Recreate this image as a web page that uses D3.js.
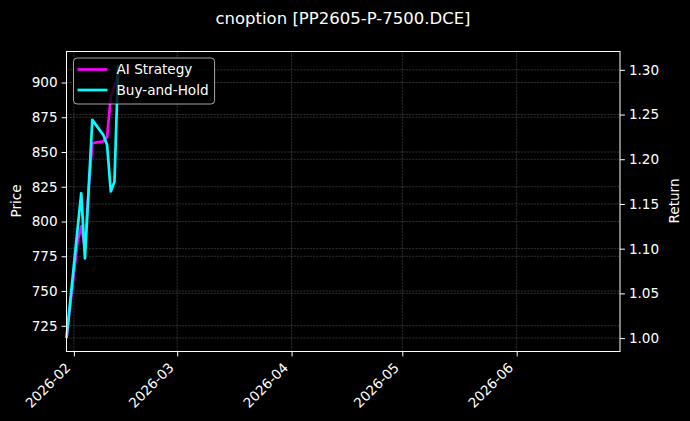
<!DOCTYPE html>
<html>
<head>
<meta charset="utf-8">
<script src="https://cdn.jsdelivr.net/npm/d3@7"></script>
<style>
	body { margin: 0; background: #000; }
	svg { display: block; font-family: "DejaVu Sans", sans-serif; }
</style>
</head>
<body>
<svg width="690" height="421"></svg>
<script>
// trading days
var dates = ["2026-01-30", "2026-02-02", "2026-02-03", "2026-02-04", "2026-02-05", "2026-02-06",
	"2026-02-09", "2026-02-10", "2026-02-11", "2026-02-12", "2026-02-13"];
var aiStrategy = [1.000, 1.108, 1.125, 1.100, 1.166, 1.218, 1.220, 1.225, 1.270, 1.282, 1.292];
var buyHold    = [1.000, 1.122, 1.162, 1.089, 1.166, 1.244, 1.227, 1.216, 1.164, 1.175, 1.305];

var xRange = ["2026-01-30", "2026-06-29"];
var priceRange = [706.5, 922.3];
var returnRange = [0.985, 1.3205];
var priceTicks = [725, 750, 775, 800, 825, 850, 875, 900];
var returnTicks = [1.00, 1.05, 1.10, 1.15, 1.20, 1.25, 1.30];

var title = "cnoption [PP2605-P-7500.DCE]";
var seriesNames = ["AI Strategy", "Buy-and-Hold"];
var seriesColors = ["#ff00ff", "#00ffff"];

var parse = d3.utcParse("%Y-%m-%d");
var svg = d3.select("svg");
var plotL = 66.5, plotR = 620, plotT = 51.5, plotB = 351.5;
var fs = 13.6;

var x = d3.scaleUtc().domain(xRange.map(parse)).range([plotL, plotR]);
var yPrice = d3.scaleLinear().domain(priceRange).range([plotB, plotT]);
var yRet = d3.scaleLinear().domain(returnRange).range([plotB, plotT]);

svg.append("rect").attr("width", 690).attr("height", 421).attr("fill", "#000");

// grid, both y axes + months
var grid = svg.append("g").attr("stroke", "#fff").attr("stroke-opacity", 0.3)
	.attr("stroke-width", 0.6).attr("stroke-dasharray", "2.2,1");
var monthTicks = x.ticks(d3.utcMonth.every(1));
grid.selectAll(".gx").data(monthTicks).enter().append("line")
	.attr("x1", function(d) {return x(d)}).attr("x2", function(d) {return x(d)})
	.attr("y1", plotT).attr("y2", plotB);
grid.selectAll(".gp").data(priceTicks).enter().append("line")
	.attr("x1", plotL).attr("x2", plotR)
	.attr("y1", function(d) {return yPrice(d)}).attr("y2", function(d) {return yPrice(d)});
grid.selectAll(".gr").data(returnTicks).enter().append("line")
	.attr("x1", plotL).attr("x2", plotR)
	.attr("y1", function(d) {return yRet(d)}).attr("y2", function(d) {return yRet(d)});

// lines
var line = d3.line()
	.x(function(d, i) {return x(parse(dates[i]))})
	.y(function(d) {return yRet(d)});
svg.append("g").selectAll("path").data([aiStrategy, buyHold]).enter().append("path")
	.attr("fill", "none")
	.attr("stroke-width", 2.7)
	.attr("stroke-linejoin", "round")
	.attr("stroke", function(d, i) {return seriesColors[i]})
	.attr("d", line);

// axes
function styleAxis(g) {
	g.select(".domain").remove();
	g.selectAll(".tick line").attr("stroke", "#fff").attr("stroke-width", 1);
	g.selectAll(".tick text").attr("fill", "#fff").attr("font-size", fs)
		.attr("font-family", "DejaVu Sans");
}

svg.append("g").attr("transform", "translate(" + plotL + ",0)")
	.call(d3.axisLeft(yPrice).tickValues(priceTicks).tickSize(4.9).tickPadding(4))
	.call(styleAxis);
svg.append("g").attr("transform", "translate(" + plotR + ",0)")
	.call(d3.axisRight(yRet).tickValues(returnTicks).tickFormat(d3.format(".2f")).tickSize(4.9).tickPadding(4))
	.call(styleAxis);
var xg = svg.append("g").attr("transform", "translate(0," + plotB + ")")
	.call(d3.axisBottom(x).tickValues(monthTicks).tickFormat(d3.utcFormat("%Y-%m")).tickSize(4.9))
	.call(styleAxis);
xg.selectAll(".tick text")
	.attr("text-anchor", "end")
	.attr("dy", null)
	.attr("y", 0)
	.attr("transform", "translate(-3,17) rotate(-45)");

// frame
svg.append("rect").attr("x", plotL).attr("y", plotT)
	.attr("width", plotR - plotL).attr("height", plotB - plotT)
	.attr("fill", "none").attr("stroke", "#fff").attr("stroke-width", 1);

// labels
svg.append("text").attr("x", 343).attr("y", 24).attr("text-anchor", "middle")
	.attr("fill", "#fff").attr("font-size", 16.5).text(title);
svg.append("text").attr("transform", "translate(21,201) rotate(-90)").attr("text-anchor", "middle")
	.attr("fill", "#fff").attr("font-size", fs).text("Price");
svg.append("text").attr("transform", "translate(679,201) rotate(-90)").attr("text-anchor", "middle")
	.attr("fill", "#fff").attr("font-size", fs).text("Return");

// legend
var lg = svg.append("g").attr("transform", "translate(73.5,58)");
var box = lg.append("rect").attr("height", 46).attr("rx", 3.5)
	.attr("fill", "#000").attr("fill-opacity", 0.8)
	.attr("stroke", "#ccc").attr("stroke-opacity", 0.8).attr("stroke-width", 1);
var items = lg.selectAll(".item").data(seriesNames).enter().append("g")
	.attr("transform", function(d, i) {return "translate(0," + (11.5 + i * 20.5) + ")"});
items.append("line").attr("x1", 4).attr("x2", 34)
	.attr("stroke-width", 2.7)
	.attr("stroke", function(d, i) {return seriesColors[i]});
var labels = items.append("text").attr("x", 43).attr("y", 4.8).attr("fill", "#fff").attr("font-size", fs)
	.text(function(d) {return d});
var textW = d3.max(labels.nodes(), function(n) {return n.getComputedTextLength()});
box.attr("width", 43 + textW + 6);
</script>
</body>
</html>
